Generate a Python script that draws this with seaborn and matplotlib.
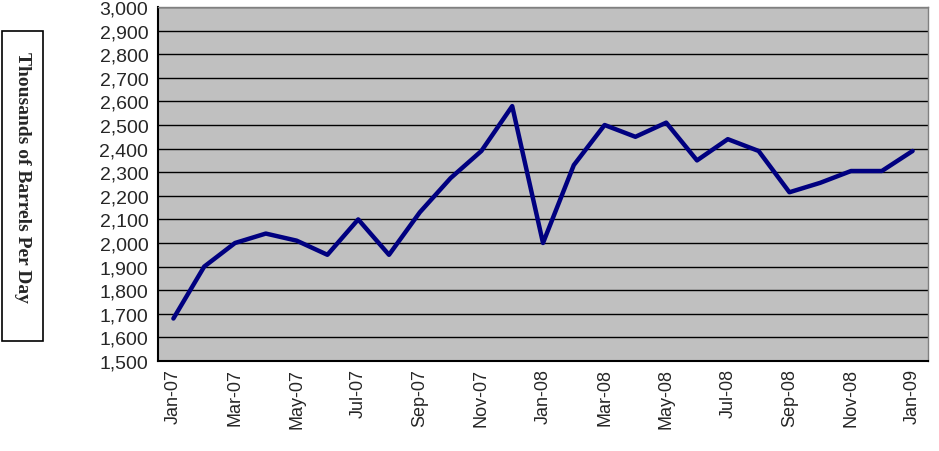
import matplotlib
matplotlib.use("Agg")
import matplotlib.pyplot as plt
import seaborn as sns
import pandas as pd
import numpy as np
from matplotlib.ticker import FuncFormatter, FixedLocator
from matplotlib.patches import Rectangle

months = ["Jan-07", "Feb-07", "Mar-07", "Apr-07", "May-07", "Jun-07", "Jul-07", "Aug-07",
          "Sep-07", "Oct-07", "Nov-07", "Dec-07", "Jan-08", "Feb-08", "Mar-08", "Apr-08",
          "May-08", "Jun-08", "Jul-08", "Aug-08", "Sep-08", "Oct-08", "Nov-08", "Dec-08", "Jan-09"]
values = [1680, 1900, 2000, 2040, 2010, 1950, 2100, 1950, 2130, 2275, 2390, 2580,
          2000, 2330, 2500, 2450, 2510, 2350, 2440, 2390, 2215, 2255, 2305, 2305, 2390]
y_ticks = list(range(1500, 3001, 100))

sns.set_style("white")
plt.rcParams['font.family'] = ['Liberation Sans', 'DejaVu Sans']

df = pd.DataFrame({"idx": np.arange(len(months)), "month": months, "value": values})

fig = plt.figure(figsize=(9.39, 4.52), dpi=100)
ax = fig.add_axes([158/939, 1-362/452, (928-158)/939, (362-8)/452])
ax.set_facecolor("#C0C0C0")

sns.lineplot(data=df, x="idx", y="value", ax=ax, color="#000080", linewidth=3.2, zorder=3)

ax.set_xlim(-0.5, len(months) - 0.5)
ax.set_ylim(1500, 3000)
ax.set_yticks(y_ticks)
ax.yaxis.set_major_formatter(FuncFormatter(lambda v, p: f"{int(v):,}"))
ax.grid(axis="y", color="black", linewidth=1.0)
ax.set_axisbelow(True)

# category boundary ticks every 2 months, labels at category centres
ax.xaxis.set_major_locator(FixedLocator(np.arange(-0.5, len(months), 2)))
ax.xaxis.set_minor_locator(FixedLocator(df["idx"].values[::2]))
ax.xaxis.set_major_formatter(FuncFormatter(lambda v, p: ""))
ax.xaxis.set_minor_formatter(FuncFormatter(lambda v, p: months[int(round(v))]))
ax.tick_params(axis="x", which="major", direction="out", length=5, width=1.2, color="black")
ax.tick_params(axis="x", which="minor", length=0, labelsize=13, labelrotation=90, pad=5)
ax.tick_params(axis="y", direction="out", length=5, width=1.2, color="black", labelsize=14, pad=2)
ax.set_xlabel("")
ax.set_ylabel("")

for s in ["left", "bottom"]:
    ax.spines[s].set_color("black")
    ax.spines[s].set_linewidth(1.5)
for s in ["top", "right"]:
    ax.spines[s].set_color("#808080")
    ax.spines[s].set_linewidth(1.0)

fig.patches.append(Rectangle((2/939, 1-342/452), 41/939, 310/452, transform=fig.transFigure,
                             facecolor="white", edgecolor="black", linewidth=1.2))
fig.text(22.5/939, 1-177/452, "Thousands of Barrels Per Day", rotation=270,
         ha="center", va="center", fontsize=14, fontweight="bold",
         family=["Liberation Serif", "DejaVu Serif"])

fig.savefig("out.png", dpi=100)
